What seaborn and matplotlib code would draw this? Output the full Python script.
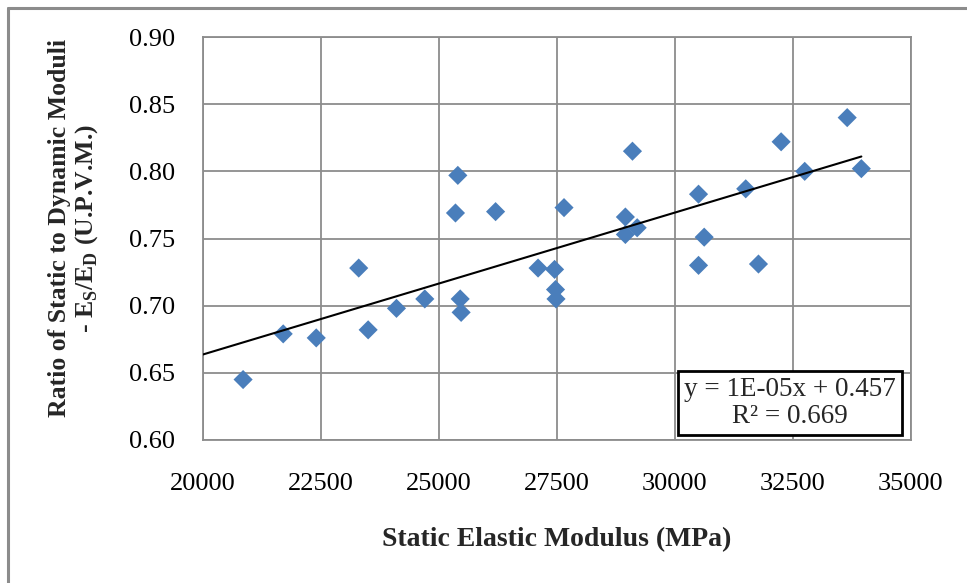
import numpy as np
import pandas as pd
import matplotlib
matplotlib.use("Agg")
import matplotlib.pyplot as plt
import seaborn as sns

# ---- data ----
static_modulus = [20850, 21700, 22400, 23300, 23500, 24100, 24700, 25400, 25350,
                  25450, 25470, 26200, 27100, 27450, 27470, 27480, 27650, 29100,
                  28950, 29200, 28950, 30500, 30620, 30500, 31500, 31770, 32250,
                  32750, 33650, 33950]
ratio = [0.645, 0.679, 0.676, 0.728, 0.682, 0.698, 0.705, 0.797, 0.769,
         0.705, 0.695, 0.770, 0.728, 0.727, 0.712, 0.705, 0.773, 0.815,
         0.766, 0.758, 0.753, 0.783, 0.751, 0.730, 0.787, 0.731, 0.822,
         0.800, 0.840, 0.802]
x_ticks = [20000, 22500, 25000, 27500, 30000, 32500, 35000]
y_ticks = [0.60, 0.65, 0.70, 0.75, 0.80, 0.85, 0.90]
eq_text = "y = 1E-05x + 0.457\nR² = 0.669"

df = pd.DataFrame({"E_s": static_modulus, "ratio": ratio})

sns.set_theme(style="white")
plt.rcParams["font.family"] = ["Liberation Serif", "DejaVu Serif"]
plt.rcParams["mathtext.fontset"] = "custom"
plt.rcParams["mathtext.rm"] = "Liberation Serif"
plt.rcParams["mathtext.bf"] = "Liberation Serif:bold"

fig = plt.figure(figsize=(9.67, 5.83), dpi=100)
ax = fig.add_axes([0.2099, 0.2453, 0.7321, 0.6912])

ax.set_xlim(x_ticks[0], x_ticks[-1])
ax.set_ylim(y_ticks[0], y_ticks[-1])
ax.set_xticks(x_ticks)
ax.set_yticks(y_ticks)
ax.set_xticklabels([str(t) for t in x_ticks])
ax.set_yticklabels([f"{t:.2f}" for t in y_ticks])
ax.grid(True, color="#8c8c8c", linewidth=1.3)
ax.set_axisbelow(True)
for s in ax.spines.values():
    s.set_color("#8c8c8c")
    s.set_linewidth(1.3)

sns.scatterplot(data=df, x="E_s", y="ratio", marker="D", s=95,
                color="#4a7ebb", edgecolor="none", linewidth=0, ax=ax, zorder=3)

# linear trendline (fit from the data)
slope, intercept = np.polyfit(df["E_s"], df["ratio"], 1)
xs = np.linspace(ax.get_xlim()[0], df["E_s"].max(), 50)
trend = pd.DataFrame({"x": xs, "y": slope * xs + intercept})
sns.lineplot(data=trend, x="x", y="y", color="black", linewidth=1.5, ax=ax, zorder=4)

ax.tick_params(axis="both", which="both", length=0, labelsize=19,
               labelcolor="black")
ax.tick_params(axis="y", pad=20)
ax.tick_params(axis="x", pad=24)
ax.set_xlabel("Static Elastic Modulus (MPa)", fontsize=20, fontweight="bold")
ax.set_ylabel("Ratio of Static to Dynamic Moduli\n"
              r"- E$_\mathbf{S}$/E$_\mathbf{D}$ (U.P.V.M.)",
              fontsize=18.5, fontweight="bold", linespacing=1.1)
ax.xaxis.set_label_coords(0.5, -0.215)
ax.yaxis.set_label_coords(-0.146, 0.526)

ax.text(0.829, 0.091, eq_text, transform=ax.transAxes, ha="center", va="center",
        multialignment="center", fontsize=19.5, zorder=6, linespacing=1.12,
        bbox=dict(boxstyle="square,pad=0.22", facecolor="white",
                  edgecolor="black", linewidth=2))

# outer frame lines (left and top) as in the reference
fig.add_artist(plt.Line2D([0.0085, 0.0085], [0.0, 0.987], color="#8c8c8c",
                          linewidth=2.2, transform=fig.transFigure))
fig.add_artist(plt.Line2D([0.0085, 1.0], [0.987, 0.987], color="#8c8c8c",
                          linewidth=2.2, transform=fig.transFigure))

fig.savefig("out.png", dpi=100, facecolor="white")
